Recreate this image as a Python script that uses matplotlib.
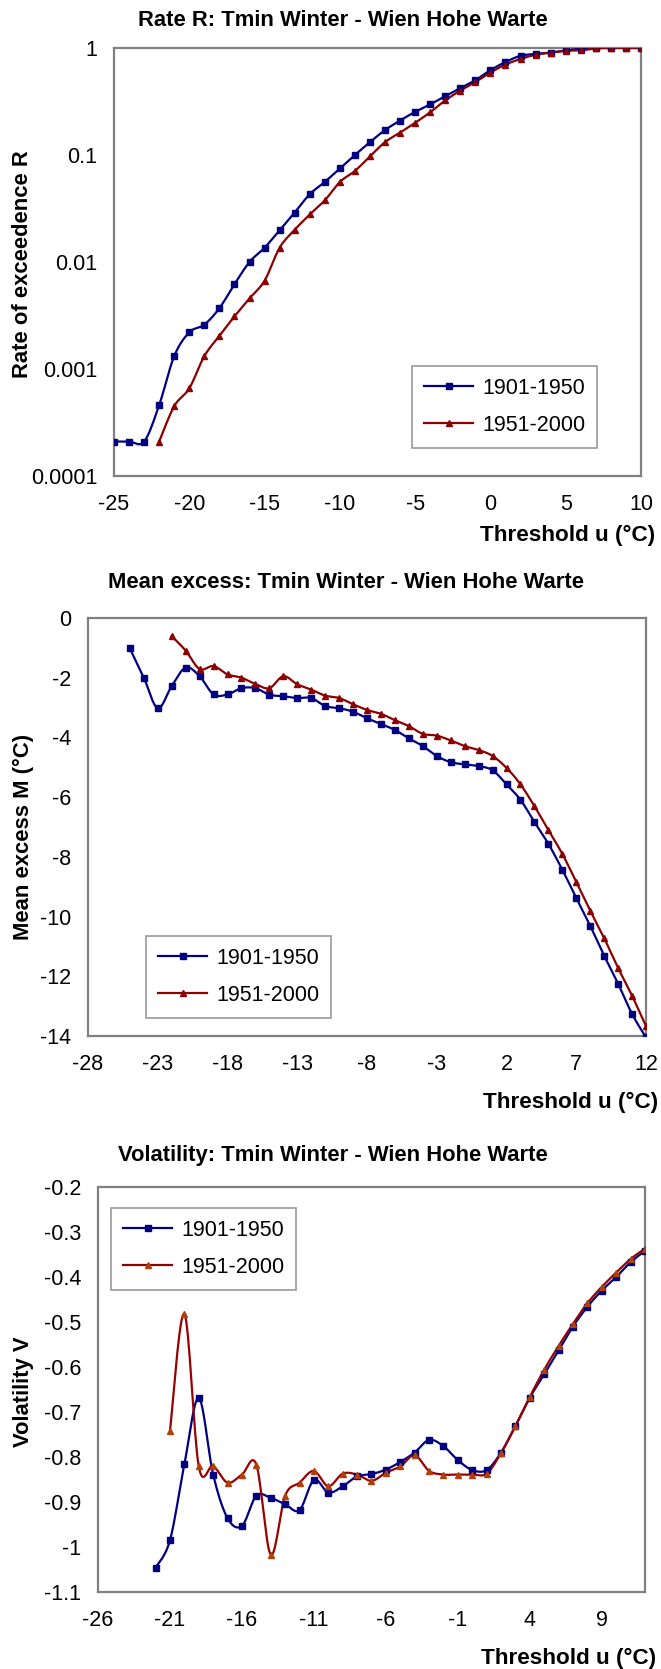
import numpy as np
import matplotlib
matplotlib.use('Agg')
import matplotlib.pyplot as plt
from matplotlib.lines import Line2D

plt.rcParams['font.family'] = ['Liberation Sans', 'DejaVu Sans']

# --- Rate of exceedence R (log scale) ---
rate_u_old = list(range(-25, 11))
rate_old = [2.1e-4, 2.1e-4, 2.1e-4, 4.6e-4, 1.32e-3, 2.2e-3, 2.6e-3, 3.7e-3, 6.2e-3,
            0.010, 0.0136, 0.0198, 0.029, 0.043, 0.056, 0.075, 0.100, 0.132, 0.171,
            0.210, 0.253, 0.297, 0.355, 0.42, 0.50, 0.62, 0.74, 0.845, 0.88, 0.905,
            0.95, 0.985, 1.0, 1.0, 1.0, 1.0]
rate_u_new = list(range(-22, 11))
rate_new = [2.1e-4, 4.5e-4, 6.6e-4, 1.32e-3, 2.04e-3, 3.1e-3, 4.57e-3, 6.7e-3, 0.0136,
            0.020, 0.0278, 0.0377, 0.056, 0.071, 0.097, 0.132, 0.162, 0.200, 0.251,
            0.324, 0.40, 0.48, 0.59, 0.70, 0.79, 0.864, 0.905, 0.94, 0.95, 0.99,
            1.0, 1.0, 1.0]

# --- Mean excess M ---
mean_u_old = list(range(-25, 13))
mean_old = [-1.02, -2.0, -3.02, -2.28, -1.66, -1.95, -2.56, -2.56, -2.35, -2.35,
            -2.57, -2.62, -2.68, -2.68, -2.95, -3.02, -3.14, -3.36, -3.55, -3.75,
            -4.03, -4.29, -4.62, -4.83, -4.90, -4.96, -5.10, -5.57, -6.09, -6.83,
            -7.56, -8.43, -9.38, -10.31, -11.31, -12.25, -13.26, -14.05]
mean_u_new = list(range(-22, 13))
mean_new = [-0.61, -1.09, -1.71, -1.61, -1.89, -2.0, -2.21, -2.35, -1.95, -2.22,
            -2.40, -2.60, -2.68, -2.89, -3.08, -3.21, -3.42, -3.62, -3.88, -3.94,
            -4.10, -4.29, -4.42, -4.62, -5.02, -5.57, -6.30, -7.10, -7.90, -8.84,
            -9.80, -10.72, -11.72, -12.65, -13.67]

# --- Volatility V ---
vol_u_old = list(range(-22, 13))
vol_old = [-1.046, -0.985, -0.816, -0.669, -0.839, -0.936, -0.953, -0.886, -0.891,
           -0.905, -0.918, -0.851, -0.879, -0.865, -0.843, -0.838, -0.828, -0.811,
           -0.790, -0.762, -0.776, -0.807, -0.829, -0.829, -0.790, -0.731, -0.668,
           -0.616, -0.563, -0.510, -0.466, -0.430, -0.400, -0.367, -0.342]
vol_u_new = list(range(-21, 13))
vol_new = [-0.742, -0.482, -0.821, -0.820, -0.857, -0.839, -0.817, -1.017, -0.886,
           -0.857, -0.831, -0.865, -0.837, -0.839, -0.853, -0.835, -0.821, -0.796,
           -0.831, -0.839, -0.839, -0.839, -0.837, -0.791, -0.731, -0.666, -0.606,
           -0.553, -0.504, -0.458, -0.422, -0.390, -0.360, -0.337]

labels = ['1901-1950', '1951-2000']
BLUE = '#000080'
RED = '#8B0000'

W, H = 661, 1669


def smooth(x, y, n=16):
    # uniform Catmull-Rom curve through the points (like Excel smoothed lines)
    x = np.asarray(x, float)
    y = np.asarray(y, float)
    px = np.concatenate([[x[0]], x, [x[-1]]])
    py = np.concatenate([[y[0]], y, [y[-1]]])
    t = np.linspace(0, 1, n, endpoint=False)
    xs, ys = [], []
    for i in range(1, len(px) - 2):
        p0, p1, p2, p3 = px[i - 1], px[i], px[i + 1], px[i + 2]
        q0, q1, q2, q3 = py[i - 1], py[i], py[i + 1], py[i + 2]
        for arr, a0, a1, a2, a3 in ((xs, p0, p1, p2, p3), (ys, q0, q1, q2, q3)):
            arr.extend(0.5 * (2 * a1 + (-a0 + a2) * t + (2 * a0 - 5 * a1 + 4 * a2 - a3) * t ** 2
                              + (-a0 + 3 * a1 - 3 * a2 + a3) * t ** 3))
    xs.append(x[-1])
    ys.append(y[-1])
    return np.array(xs), np.array(ys)


def make_axes(left, top, right, bottom):
    return fig.add_axes([left / W, 1 - bottom / H, (right - left) / W, (bottom - top) / H])


def draw_series(ax, u, v, color, marker, mcolor=None, log=False):
    if log:
        sx, sy = smooth(u, np.log10(v))
        sy = 10 ** sy
    else:
        sx, sy = smooth(u, v)
    ax.plot(sx, sy, color=color, lw=1.6, zorder=3)
    ax.plot(u, v, ls='none', marker=marker, ms=4.5, color=mcolor or color,
            mec=mcolor or color, zorder=4)


def style_axes(ax, xticks, xlim, yticks, ylim, ylabels):
    ax.set_xlim(*xlim)
    ax.set_ylim(*ylim)
    ax.set_xticks(xticks)
    ax.set_xticklabels([f'{t:g}' for t in xticks])
    ax.set_yticks(yticks)
    ax.set_yticklabels(ylabels)
    ax.minorticks_off()
    ax.tick_params(length=0, labelsize=15.5, colors='black')
    ax.tick_params(axis='x', pad=13)
    ax.tick_params(axis='y', pad=12)
    for s in ax.spines.values():
        s.set_color('#808080')
        s.set_linewidth(1.6)


def add_legend(ax, left, top, mcolor2=None):
    handles = [Line2D([], [], color=BLUE, lw=1.6, marker='s', ms=4.5),
               Line2D([], [], color=RED, lw=1.6, marker='^', ms=4.5,
                      mfc=mcolor2 or RED, mec=mcolor2 or RED)]
    leg = ax.legend(handles, labels, loc='upper left',
                    bbox_to_anchor=(left / W, 1 - top / H), bbox_transform=fig.transFigure,
                    borderaxespad=0, fontsize=15.5, frameon=True, fancybox=False,
                    edgecolor='#808080', handlelength=2.3, handletextpad=0.4,
                    labelspacing=0.75, borderpad=0.55)
    leg.get_frame().set_linewidth(1.2)


def add_texts(title, tx, ty, ylabel, ly, xr, xy):
    fig.text(tx / W, 1 - ty / H, title, ha='center', va='center',
             fontsize=15.8, fontweight='bold')
    fig.text(23 / W, 1 - ly / H, ylabel, ha='center', va='center', rotation=90,
             fontsize=15.8, fontweight='bold')
    fig.text(xr / W, 1 - xy / H, 'Threshold u (°C)', ha='right', va='center',
             fontsize=16.2, fontweight='bold')


fig = plt.figure(figsize=(W / 100, H / 100), dpi=100)

# panel 1
ax1 = make_axes(114, 48, 641, 476)
ax1.set_yscale('log')
draw_series(ax1, rate_u_old, rate_old, BLUE, 's', log=True)
draw_series(ax1, rate_u_new, rate_new, RED, '^', log=True)
style_axes(ax1, list(range(-25, 11, 5)), (-25, 10), [1e-4, 1e-3, 1e-2, 0.1, 1], (1e-4, 1),
           ['0.0001', '0.001', '0.01', '0.1', '1'])
add_legend(ax1, 412, 366)
add_texts('Rate R: Tmin Winter - Wien Hohe Warte', 343, 20,
          'Rate of exceedence R', 264, 655, 535)

# panel 2
ax2 = make_axes(88, 618, 646, 1036)
draw_series(ax2, mean_u_old, mean_old, BLUE, 's')
draw_series(ax2, mean_u_new, mean_new, RED, '^')
yt2 = list(range(-14, 1, 2))
style_axes(ax2, list(range(-28, 13, 5)), (-28, 12), yt2, (-14, 0), [f'{t:g}' for t in yt2])
add_legend(ax2, 146, 936)
add_texts('Mean excess: Tmin Winter - Wien Hohe Warte', 346, 582,
          'Mean excess M (°C)', 837, 658, 1102)

# panel 3
ax3 = make_axes(98, 1187, 645, 1592)
draw_series(ax3, vol_u_old, vol_old, BLUE, 's')
draw_series(ax3, vol_u_new, vol_new, '#990000', '^', mcolor='#B0400A')
yt3 = [round(-0.2 - 0.1 * i, 1) for i in range(10)]
style_axes(ax3, list(range(-26, 10, 5)), (-26, 12), yt3, (-1.1, -0.2), [f'{t:g}' for t in yt3])
add_legend(ax3, 111, 1208, mcolor2='#B0400A')
add_texts('Volatility: Tmin Winter - Wien Hohe Warte', 333, 1155,
          'Volatility V', 1392, 656, 1658)

fig.savefig('out.png', dpi=100)
